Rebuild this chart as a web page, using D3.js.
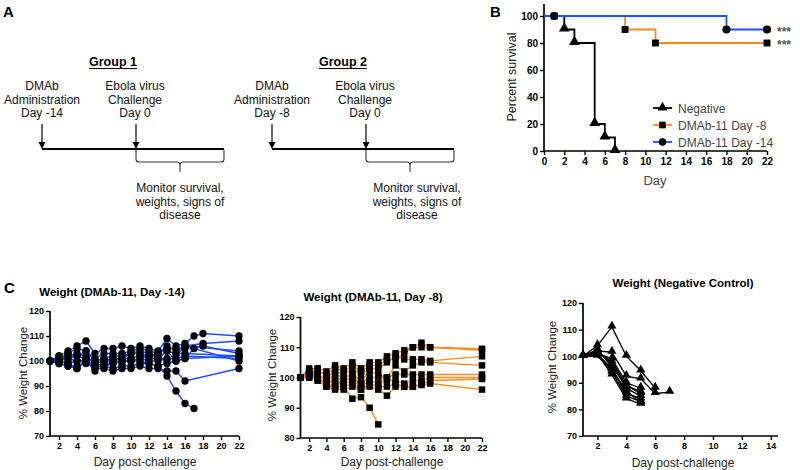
<!DOCTYPE html>
<html><head><meta charset="utf-8">
<script src="https://d3js.org/d3.v7.min.js"></script>
<style>body{margin:0;background:#fff}svg{font-family:"Liberation Sans",Arial,sans-serif}</style>
</head><body>
<svg id="c" width="800" height="470"></svg>
<script>
// ---------- DATA ----------
const groups = [
  {title:"Group 1", dmab:["DMAb","Administration","Day -14"]},
  {title:"Group 2", dmab:["DMAb","Administration","Day -8"]}
];
const challengeText = ["Ebola virus","Challenge","Day 0"];
const monitorText = ["Monitor survival,","weights, signs of","disease"];

const survNames = ["Negative","DMAb-11 Day -8","DMAb-11 Day -14"];
const negDays = [0,2,3,5,6,7],  negSurv = [100,90,80,20,10,0];
const d8Days  = [0,8,11,22],    d8Surv  = [100,90,80,80];
const d14Days = [0,18,22],      d14Surv = [100,90,90];
const negMarkDays = [2,3,5,6,7], negMarkSurv = [90,80,20,10,0];
const d8MarkDays  = [1,8,11,22], d8MarkSurv  = [100,90,80,80];
const d14MarkDays = [1,18,22],   d14MarkSurv = [100,90,90];
const survXTicks = [0,2,4,6,8,10,12,14,16,18,20,22];
const survYTicks = [0,20,40,60,80,100];

// Weight, DMAb-11 Day -14 (days 1..18, 22)
const w14Days = [1,2,3,4,5,6,7,8,9,10,11,12,13,14,15,16,17,18,22];
const w14 = [
  [100,102,104,106,108,103,105,105,106,105,106,105,104,109,106,107,110,111,110],
  [100,101,103,105,104,101,103,103,103,104,105,104,103,106,104,106,null,107,108],
  [100,101,102,102,101,100,101,102,102,103,103,102,103,105,105,105,null,106,103],
  [100,100,99,100,100,99,100,100,101,101,102,101,101,104,103,103,null,null,102],
  [100,99,98,98,99,98,98,99,100,100,101,100,100,101,101,102,null,null,101],
  [100,100,99,97,100,96,98,97,98,98,99,99,98,99,100,101,105,null,100],
  [100,99,98,97,101,97,97,96,97,97,98,97,97,96,96,92,null,null,97],
  [100,102,100,103,102,99,100,101,101,103,104,103,101,104,100,101,null,null,102],
  [100,100,101,100,100,98,99,99,100,100,100,99,98,94,88,83,81,null,null],
  [100,101,103,102,104,100,101,100,99,101,102,102,102,100,102,106,null,null,104]
];
// Weight, DMAb-11 Day -8 (days 1..16, 22)
const w8Days = [1,2,3,4,5,6,7,8,9,10,11,12,13,14,15,16,22];
const w8 = [
  [100,103,103,102,104,103,105,103,105,105,107,108,109,110,111.5,110,109.5],
  [100,102,102,101,103,102,104,102,104,104,106,106,108,110,110,110,109],
  [100,101,103,100,102,101,103,101,103,103,105,107,106,106,106,105.5,107],
  [100,101,101,99,101,100,101,99,102,101,100,104,102,104,105,105,104],
  [100,100,100,98,100,99,100,98,100,100,100,101,101,101,101,101,101],
  [100,101,99,98,99,98,99,97,99,98,99,99,98,99,99,100,100],
  [100,100,100,97,97,97,98,96,98,97,97,98,97,97,98,99,99.5],
  [100,102,99,97,96,96,97,96,97,96,94,97,97,97,97.5,98,96],
  [100,101,100,98,97,97,93,93.5,90,84.5,null,null,null,null,null,null,null],
  [100,102,101,99,98,98,101,97,null,null,null,null,null,null,null,null,null]
];
// Weight, Negative control (days 1..7)
const wNegDays = [1,2,3,4,5,6,7];
const wNeg = [
  [100,104,111,100,94.5,88,null],
  [100,102,101.5,92.5,91.5,86,86.5],
  [100,101,99,90,88,null,null],
  [100,102,97,88,85,null,null],
  [100,101,95,86,84,null,null],
  [100,100.5,94,85,83,null,null],
  [100,102.5,96,89,86,null,null],
  [100,101,93,84,82,null,null],
  [100,100,95,87,82.5,null,null],
  [100,101.5,98,89,86.5,null,null]
];
const w14XTicks = [2,4,6,8,10,12,14,16,18,20,22];
const w14YTicks = [70,80,90,100,110,120];
const w8XTicks = [2,4,6,8,10,12,14,16,18,20,22];
const w8YTicks = [80,90,100,110,120];
const wNegXTicks = [2,4,6,8,10,12,14];
const wNegYTicks = [70,80,90,100,110,120];

const BLUE = "#1f4dff", ORANGE = "#ff8a1e";

// ---------- DRAW ----------
const svg = d3.select("#c");

// Panel letters
[["A",3,17],["B",490,17],["C",4,293]].forEach(([t,x,y])=>
  svg.append("text").attr("x",x).attr("y",y).attr("font-size",15).attr("font-weight","bold").text(t));

// ---------- Panel A ----------
const aPos = [{x0:42,x1:136,x2:224,gx:113},{x0:272,x1:366,x2:454,gx:343}];
groups.forEach((g,i)=>{
  const p = aPos[i], G = svg.append("g");
  const t = G.append("text").attr("x",p.gx).attr("y",66).attr("text-anchor","middle")
    .attr("font-size",12.5).attr("font-weight","bold").text(g.title);
  const w = t.node().getComputedTextLength();
  G.append("line").attr("x1",p.gx-w/2).attr("x2",p.gx+w/2).attr("y1",68.5).attr("y2",68.5).attr("stroke","#000").attr("stroke-width",1);
  g.dmab.forEach((s,k)=>G.append("text").attr("x",p.x0).attr("y",90+k*13.5).attr("text-anchor","middle").attr("font-size",12).attr("fill","#111").text(s));
  challengeText.forEach((s,k)=>G.append("text").attr("x",p.x1-1).attr("y",90+k*13.5).attr("text-anchor","middle").attr("font-size",12).attr("fill","#111").text(s));
  [p.x0,p.x1].forEach(x=>{
    G.append("line").attr("x1",x).attr("x2",x).attr("y1",124).attr("y2",143).attr("stroke","#000").attr("stroke-width",1.2);
    G.append("path").attr("d",`M${x-3.5},142 L${x+3.5},142 L${x},149 Z`).attr("fill","#000");
  });
  G.append("line").attr("x1",p.x0).attr("x2",p.x2).attr("y1",149).attr("y2",149).attr("stroke","#000").attr("stroke-width",2);
  const mid = p.x1+(p.x2-p.x1)*0.5;
  G.append("path").attr("fill","none").attr("stroke","#333").attr("stroke-width",1.1)
    .attr("d",`M${p.x1},150 L${p.x1},159 Q${p.x1},162 ${p.x1+3},162 L${mid-3},162 Q${mid},162 ${mid},165 L${mid},172 M${mid},165 Q${mid},162 ${mid+3},162 L${p.x2-3},162 Q${p.x2},162 ${p.x2},159 L${p.x2},150`);
  monitorText.forEach((s,k)=>G.append("text").attr("x",mid+(i?7:0)).attr("y",192+k*13.5).attr("text-anchor","middle").attr("font-size",12).attr("fill","#111").text(s));
});

// marker helpers
function marker(g,type,x,y,size,fill){
  const sym = type==="tri"?d3.symbolTriangle:type==="sq"?d3.symbolSquare:d3.symbolCircle;
  g.append("path").attr("d",d3.symbol().type(sym).size(size)()).attr("transform",`translate(${x},${y})`).attr("fill",fill||"#000");
}

function axes(g,x,y,xTicks,yTicks,xEnd,yTop,fs){
  const xa = g.append("g").attr("transform",`translate(0,${y.range()[0]})`)
    .call(d3.axisBottom(x).tickValues(xTicks).tickSize(4).tickSizeOuter(0).tickPadding(3));
  const ya = g.append("g").attr("transform",`translate(${x.range()[0]},0)`)
    .call(d3.axisLeft(y).tickValues(yTicks).tickSize(4).tickSizeOuter(0).tickPadding(2));
  [xa,ya].forEach(a=>{
    a.select(".domain").remove();
    a.selectAll("line").attr("stroke","#000").attr("stroke-width",1.4);
    a.selectAll("text").attr("font-size",fs).attr("font-weight","bold").attr("fill","#000").attr("font-family","Liberation Sans, Arial, sans-serif");
  });
  g.append("line").attr("x1",x.range()[0]).attr("x2",xEnd).attr("y1",y.range()[0]).attr("y2",y.range()[0]).attr("stroke","#000").attr("stroke-width",1.7);
  g.append("line").attr("x1",x.range()[0]).attr("x2",x.range()[0]).attr("y1",y.range()[0]).attr("y2",yTop).attr("stroke","#000").attr("stroke-width",1.7);
}

// ---------- Panel B ----------
{
  const g = svg.append("g");
  const x = d3.scaleLinear().domain([0,22]).range([544,767]);
  const y = d3.scaleLinear().domain([0,100]).range([151,16]);
  axes(g,x,y,survXTicks,survYTicks,767,4,10);
  const line = d3.line().x(d=>x(d[0])).y(d=>y(d[1])).curve(d3.curveStepAfter);
  const series = [[negDays,negSurv,"#000"],[d8Days,d8Surv,ORANGE],[d14Days,d14Surv,BLUE]];
  series.forEach(([dx,dy,c])=>g.append("path").attr("d",line(dx.map((d,i)=>[d,dy[i]]))).attr("fill","none").attr("stroke",c).attr("stroke-width",1.8));
  negMarkDays.forEach((d,i)=>marker(g,"tri",x(d),y(negMarkSurv[i])-1,50));
  d14MarkDays.forEach((d,i)=>marker(g,"circ",x(d),y(d14MarkSurv[i]),52));
  d8MarkDays.forEach((d,i)=>marker(g,"sq",x(d),y(d8MarkSurv[i]),48));
  g.append("text").attr("transform","translate(516,77) rotate(-90)").attr("text-anchor","middle").attr("font-size",12.5).attr("fill","#222").text("Percent survival");
  g.append("text").attr("x",655).attr("y",185).attr("text-anchor","middle").attr("font-size",13).attr("fill","#444").text("Day");
  const leg = [["tri","#000"],["sq",ORANGE],["circ",BLUE]];
  leg.forEach(([t,c],i)=>{
    const yy = 108+i*17;
    g.append("line").attr("x1",653).attr("x2",672).attr("y1",yy).attr("y2",yy).attr("stroke",c).attr("stroke-width",1.8);
    marker(g,t,662.5,yy-(t==="tri"?0.5:0),44);
    g.append("text").attr("x",678).attr("y",yy+4.5).attr("font-size",12).attr("fill","#444").text(survNames[i]);
  });
  [[y(90)],[y(80)]].forEach(([yy])=>g.append("text").attr("x",777).attr("y",yy+6).attr("font-size",12).attr("font-weight","bold").attr("fill","#555").text("***"));
}

// ---------- Panel C ----------
function weightPanel(o){
  const g = svg.append("g");
  const x = d3.scaleLinear().domain(o.xd).range(o.xr);
  const y = d3.scaleLinear().domain(o.yd).range(o.yr);
  axes(g,x,y,o.xt,o.yt,o.xr[1],o.yr[1],9);
  const line = d3.line().defined(d=>d[1]!=null).x(d=>x(d[0])).y(d=>y(d[1]));
  o.data.forEach(s=>{
    const pts = o.days.map((d,i)=>[d,s[i]]).filter(p=>p[1]!=null);
    g.append("path").attr("d",line(pts)).attr("fill","none").attr("stroke",o.color).attr("stroke-width",1.4);
  });
  o.data.forEach(s=>o.days.forEach((d,i)=>{ if(s[i]!=null) marker(g,o.mark,x(d),y(s[i])-(o.mark==="tri"?1:0),o.msize); }));
  g.append("text").attr("x",o.tx).attr("y",o.ty).attr("text-anchor","middle").attr("font-size",11.5).attr("font-weight","bold").text(o.title);
  g.append("text").attr("transform",`translate(${o.ylx},${o.yly}) rotate(-90)`).attr("text-anchor","middle").attr("font-size",11.5).attr("fill","#222").text("% Weight Change");
  g.append("text").attr("x",o.xlx).attr("y",o.xly).attr("text-anchor","middle").attr("font-size",12).attr("fill","#222").text("Day post-challenge");
}
weightPanel({data:w14,days:w14Days,xd:[1,22],xr:[50,239],yd:[70,120],yr:[436,311],xt:w14XTicks,yt:w14YTicks,
  color:BLUE,mark:"circ",msize:42,title:"Weight (DMAb-11,  Day -14)",tx:112,ty:296,ylx:27,yly:373,xlx:145,xly:466});
weightPanel({data:w8,days:w8Days,xd:[1,22],xr:[300.5,482],yd:[80,120],yr:[438,317],xt:w8XTicks,yt:w8YTicks,
  color:ORANGE,mark:"sq",msize:42,title:"Weight (DMAb-11,  Day -8)",tx:373,ty:301,ylx:276,yly:375,xlx:392,xly:466});
weightPanel({data:wNeg,days:wNegDays,xd:[1,14.5],xr:[583,778],yd:[70,120],yr:[436,303],xt:wNegXTicks,yt:wNegYTicks,
  color:"#000",mark:"tri",msize:36,title:"Weight (Negative Control)",tx:683,ty:287,ylx:556,yly:367,xlx:683,xly:467});
</script>
</body></html>
